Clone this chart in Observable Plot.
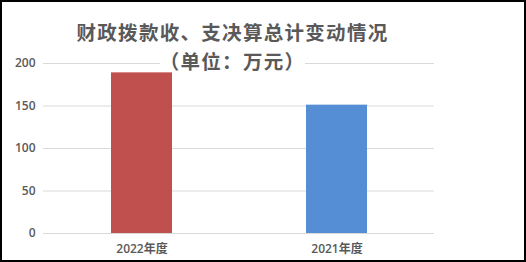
<!DOCTYPE html>
<html>
<head>
<meta charset="utf-8">
<script src="https://cdn.jsdelivr.net/npm/d3@7"></script>
<script src="https://cdn.jsdelivr.net/npm/@observablehq/plot@0.6"></script>
<style>
  html, body { margin: 0; padding: 0; background: #fff; }
  #wrap { position: relative; width: 526px; height: 262px; overflow: hidden; }
  #frame { position: absolute; left: 0; top: 0; width: 526px; height: 262px; box-sizing: border-box; border: 2px solid #000; pointer-events: none; }
  #title { position: absolute; left: 0; top: 18px; width: 465px; text-align: center;
    font-family: "Noto Sans CJK SC", sans-serif; font-size: 19.5px; line-height: 28.5px; font-weight: 600; letter-spacing: 1.3px; color: #595959; }
  #title span { display: inline-block; line-height: 28.5px; height: 28.5px;
    background-image: linear-gradient(#fff, #fff); background-repeat: no-repeat; background-size: 100% 20px; background-position: 0 0; }
  #chart { position: absolute; left: 0; top: 0; }
</style>
</head>
<body>
<div id="wrap">
  <div id="chart"></div>
  <div id="title"><span>财政拨款收、支决算总计变动情况</span><br><span>（单位：万元）</span></div>
  <div id="frame"></div>
</div>
<script>
const categories = ["2022年度", "2021年度"];
const values = [189, 151];
const yTicks = [0, 50, 100, 150, 200];

const data = categories.map((c, i) => ({ year: c, value: values[i] }));

const chart = Plot.plot({
  width: 526,
  height: 262,
  marginLeft: 43,
  marginRight: 92,
  marginTop: 63,
  marginBottom: 29,
  style: { fontFamily: "'Open Sans', 'Noto Sans CJK SC', sans-serif", fontSize: "12px", color: "#595959", background: "transparent" },
  x: { domain: categories, paddingInner: 0.688, paddingOuter: 0.344, label: null },
  y: { domain: [0, 200], label: null },
  color: { domain: categories, range: ["#c0504d", "#558ed5"] },
  marks: [
    Plot.gridY(yTicks, { stroke: "#d9d9d9", strokeOpacity: 1, strokeWidth: 1 }),
    Plot.barY(data, { x: "year", y: "value", fill: "year" }),
    Plot.axisY(yTicks, { tickSize: 0, tickPadding: 8, fill: "#595959", fontWeight: "600", label: null }),
    Plot.axisX(categories, { tickSize: 0, tickPadding: 11, fill: "#595959", fontWeight: "600", label: null })
  ]
});
document.getElementById("chart").appendChild(chart);
</script>
</body>
</html>
